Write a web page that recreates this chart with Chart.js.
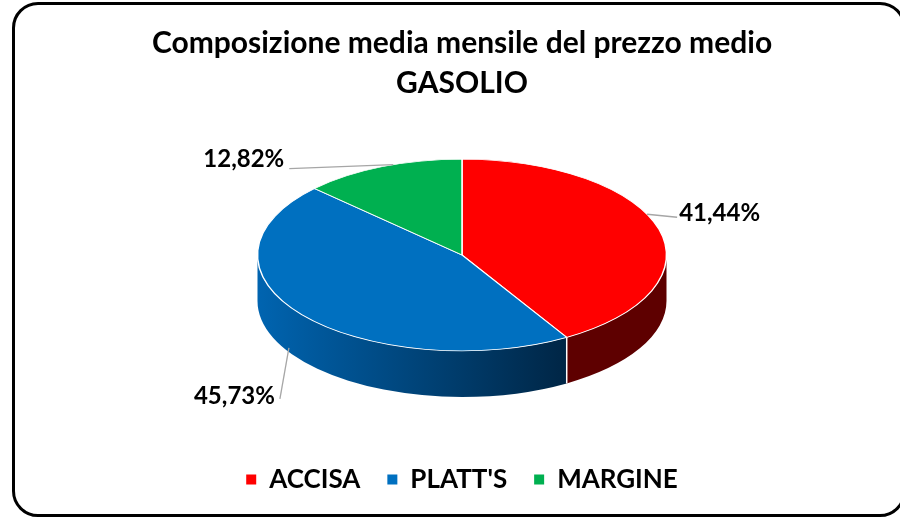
<!DOCTYPE html>
<html><head><meta charset="utf-8">
<script src="https://cdn.jsdelivr.net/npm/chart.js@4/dist/chart.umd.min.js"></script>
<style>
html,body{margin:0;padding:0;background:#fff;overflow:hidden;width:900px;height:518px;}
#frame{position:absolute;left:12px;top:2px;width:888px;height:509px;border:3px solid #000;border-radius:26px;}
canvas{position:absolute;left:0;top:0;}
</style></head><body>
<div id="frame"></div>
<canvas id="c" width="900" height="518"></canvas>
<script>
// ---- data ----
const categories = ['ACCISA', "PLATT'S", 'MARGINE'];
const values = [41.44, 45.73, 12.82];
const valueLabels = ['41,44%', '45,73%', '12,82%'];
const titleLines = ['Composizione media mensile del prezzo medio', 'GASOLIO'];

// ---- style ----
const topColors = ['#FF0000', '#0070C0', '#00B050'];
const FONT = 'Lato';
const SQUASH = 0.469;   // vertical tilt of the pie
const DEPTH = 46;       // thickness of the 3D wall
// leader-line anchor tweaks (angle shift, wall fraction) and label offsets
const labelStyle = [
  {shift: -0.17, wall: 0,    dx: 30,   dy: 3,  tx: 2,  ty: -4, align: 'left'},
  {shift: 0.11,  wall: 0.91, dx: -9,   dy: 51, tx: -5, ty: -3, align: 'right'},
  {shift: 0.06,  wall: 0,    dx: -104, dy: 4,  tx: -5, ty: -9, align: 'right'}
];

function wallFill(ctx, i, cx, R) {
  if (i === 1) {
    const g = ctx.createLinearGradient(cx - R, 0, cx + R * 0.6, 0);
    g.addColorStop(0, '#0064b0');
    g.addColorStop(1, '#00223f');
    return g;
  }
  return ['#5e0000', null, '#006a30'][i];
}

const pie3d = {
  id: 'pie3d',
  beforeDatasetsDraw(chart) {
    const ctx = chart.ctx;
    const arcs = chart.getDatasetMeta(0).data;
    if (!arcs.length) return;
    const cx = arcs[0].x, cy = arcs[0].y, R = arcs[0].outerRadius, ry = R * SQUASH;
    ctx.save();
    arcs.forEach((arc, i) => {
      const a1 = Math.max(arc.startAngle, 0), a2 = Math.min(arc.endAngle, Math.PI);
      if (a2 <= a1) return;
      ctx.beginPath();
      ctx.ellipse(cx, cy, R, ry, 0, a1, a2, false);
      ctx.lineTo(cx + R * Math.cos(a2), cy + ry * Math.sin(a2) + DEPTH);
      ctx.ellipse(cx, cy + DEPTH, R, ry, 0, a2, a1, true);
      ctx.closePath();
      ctx.fillStyle = wallFill(ctx, i, cx, R);
      ctx.fill();
    });
    ctx.strokeStyle = '#ffffff';
    ctx.lineWidth = 1.5;
    arcs.forEach(arc => {
      const a = arc.startAngle;
      if (a > 0 && a < Math.PI) {
        const x = cx + R * Math.cos(a), y = cy + ry * Math.sin(a);
        ctx.beginPath(); ctx.moveTo(x, y); ctx.lineTo(x, y + DEPTH); ctx.stroke();
      }
    });
    ctx.restore();
    ctx.save();
    ctx.translate(cx, cy);
    ctx.scale(1, SQUASH);
    ctx.translate(-cx, -cy);
  },
  afterDatasetsDraw(chart) {
    const ctx = chart.ctx;
    ctx.restore();
    const arcs = chart.getDatasetMeta(0).data;
    if (!arcs.length) return;
    const cx = arcs[0].x, cy = arcs[0].y, R = arcs[0].outerRadius, ry = R * SQUASH;
    ctx.save();
    ctx.font = 'bold 24px ' + FONT;
    ctx.fillStyle = '#000';
    ctx.textBaseline = 'middle';
    arcs.forEach((arc, i) => {
      const s = labelStyle[i];
      const mid = (arc.startAngle + arc.endAngle) / 2 + s.shift;
      const ax = cx + R * Math.cos(mid);
      const ay = cy + ry * Math.sin(mid) + DEPTH * s.wall;
      const ex = ax + s.dx, ey = ay + s.dy;
      ctx.strokeStyle = '#a6a6a6';
      ctx.lineWidth = 1.3;
      ctx.beginPath(); ctx.moveTo(ax, ay); ctx.lineTo(ex, ey); ctx.stroke();
      ctx.textAlign = s.align;
      ctx.fillText(valueLabels[i], ex + s.tx, ey + s.ty);
    });
    ctx.restore();
  }
};

new Chart(document.getElementById('c'), {
  type: 'pie',
  data: {
    labels: categories,
    datasets: [{
      data: values,
      backgroundColor: topColors,
      borderColor: '#ffffff',
      borderWidth: 1.5,
      radius: 204.5,
      clip: false
    }]
  },
  options: {
    responsive: false,
    animation: false,
    devicePixelRatio: 1,
    layout: {padding: {left: 24, right: 0, top: 0, bottom: 15.5}},
    plugins: {
      tooltip: {enabled: false},
      title: {
        display: true,
        text: titleLines,
        color: '#000',
        font: {family: FONT, weight: 'bold', size: 30, lineHeight: 40 / 30},
        padding: {top: 23, bottom: 0}
      },
      legend: {
        position: 'bottom',
        title: {display: true, text: '', padding: {top: 31.5, bottom: 0}, font: {size: 1, lineHeight: 1}},
        labels: {
          color: '#000',
          font: {family: FONT, weight: 'bold', size: 26},
          boxWidth: 10,
          boxHeight: 10,
          padding: 27,
          generateLabels(chart) {
            const items = Chart.overrides.pie.plugins.legend.labels.generateLabels(chart);
            items.forEach(it => { it.lineWidth = 0; it.strokeStyle = 'rgba(0,0,0,0)'; });
            return items;
          }
        }
      }
    }
  },
  plugins: [pie3d]
});
</script>
</body></html>
